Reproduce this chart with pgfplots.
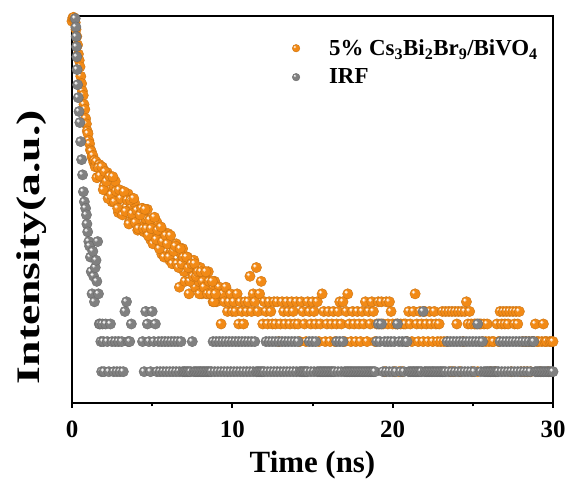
\documentclass[border=0pt]{standalone}
\usepackage{fontspec}
\setmainfont{Liberation Serif}
\usepackage{graphicx}
\usepackage{pgfplots}
\usepackage{pgfplotstable}
\pgfplotsset{compat=1.18}
\definecolor{orangeC}{RGB}{242,138,22}
\definecolor{grayC}{RGB}{128,128,128}

\pgfdeclareplotmark{oball}{%
  \pgfsetlinewidth{0.35bp}\pgfsetstrokecolor{orangeC!82!black}\pgfsetfillcolor{orangeC}%
  \pgfpathcircle{\pgfpointorigin}{\pgfplotmarksize}\pgfusepath{fill,stroke}%
  \pgfsetfillcolor{orangeC!45!white}%
  \pgfpathcircle{\pgfpoint{-0.3\pgfplotmarksize}{0.3\pgfplotmarksize}}{0.36\pgfplotmarksize}\pgfusepath{fill}%
  \pgfsetfillcolor{white}%
  \pgfpathcircle{\pgfpoint{-0.34\pgfplotmarksize}{0.34\pgfplotmarksize}}{0.18\pgfplotmarksize}\pgfusepath{fill}}
\pgfdeclareplotmark{gball}{%
  \pgfsetlinewidth{0.35bp}\pgfsetstrokecolor{grayC!82!black}\pgfsetfillcolor{grayC}%
  \pgfpathcircle{\pgfpointorigin}{\pgfplotmarksize}\pgfusepath{fill,stroke}%
  \pgfsetfillcolor{grayC!45!white}%
  \pgfpathcircle{\pgfpoint{-0.3\pgfplotmarksize}{0.3\pgfplotmarksize}}{0.36\pgfplotmarksize}\pgfusepath{fill}%
  \pgfsetfillcolor{white}%
  \pgfpathcircle{\pgfpoint{-0.34\pgfplotmarksize}{0.34\pgfplotmarksize}}{0.18\pgfplotmarksize}\pgfusepath{fill}}

\pgfplotstableread[row sep=\\]{t c\\
0 3200\\ 0.05 3450\\ 0.1 3500\\ 0.15 3350\\ 0.2 3100\\ 0.25 2650\\ 0.3 2250\\ 0.35 1850\\ 0.4 1500\\ 0.45 1300\\ 0.5 1120\\ 0.55 900\\ 0.6 760\\ 0.65 640\\ 0.7 580\\ 0.75 470\\ 0.8 420\\ 0.85 340\\ 0.9 300\\ 0.95 255\\ 1 240\\ 1.05 205\\ 1.1 190\\ 1.15 165\\ 1.2 160\\ 1.25 140\\ 1.3 145\\ 1.35 125\\ 1.4 130\\ 1.45 112\\
1.5 126\\ 1.6 88\\ 1.7 118\\ 1.8 91\\ 1.9 111\\ 2 72\\ 2.1 86\\ 2.2 98\\ 2.3 63\\ 2.4 70\\ 2.5 50\\ 2.6 73\\ 2.7 80\\ 2.8 52\\ 2.9 39\\ 3 55\\ 3.1 64\\ 3.2 40\\ 3.3 54\\ 3.4 44\\ 3.5 60\\ 3.6 32\\ 3.7 45\\ 3.8 34\\ 3.9 49\\ 4 37\\ 4.1 26\\ 4.2 42\\ 4.3 31\\ 4.4 43\\ 4.5 25\\ 4.6 34\\ 4.7 42\\ 4.8 25\\ 4.9 21\\ 5 32\\ 5.1 26\\ 5.2 20\\ 5.3 31\\ 5.4 21\\ 5.5 25\\ 5.6 15\\ 5.7 25\\ 5.8 20\\ 5.9 16\\ 6 24\\ 6.1 13\\ 6.2 16\\ 6.3 18\\ 6.4 12\\ 6.5 19\\ 6.6 12\\ 6.7 7\\ 6.8 15\\ 6.9 17\\ 7 10\\ 7.1 12\\ 7.2 14\\ 7.3 6\\ 7.4 11\\ 7.5 10\\ 7.6 13\\ 7.7 7\\ 7.8 11\\ 7.9 8\\ 8 11\\ 8.1 6\\ 8.2 8\\ 8.3 9\\ 8.4 6\\ 8.5 10\\ 8.6 6\\ 8.7 7\\ 8.8 5\\ 8.9 8\\ 9 5\\ 9.1 6\\ 9.2 7\\ 9.3 3\\ 9.4 6\\ 9.5 5\\ 9.6 7\\ 9.7 4\\ 9.8 5\\ 9.9 6\\ 10 4\\
10.1 5\\ 10.2 4\\ 10.3 6\\ 10.4 3\\ 10.5 5\\ 10.6 4\\ 10.7 3\\ 10.8 5\\ 10.9 4\\ 11 5\\ 11.1 9\\ 11.2 4\\ 11.3 6\\ 11.4 5\\ 11.5 11\\ 11.6 4\\ 11.7 6\\ 11.8 8\\ 11.9 3\\ 12 5\\
12.1 4\\ 12.2 3\\ 12.3 5\\ 12.4 4\\ 12.5 3\\ 12.6 5\\ 12.7 3\\ 12.8 5\\ 12.9 2\\ 13 3\\ 13.1 5\\ 13.2 4\\ 13.3 3\\ 13.4 5\\ 13.5 4\\ 13.6 3\\ 13.7 5\\ 13.8 4\\ 13.9 3\\ 14 5\\
14.1 3\\ 14.2 2\\ 14.3 5\\ 14.4 4\\ 14.5 3\\ 14.6 2\\ 14.7 5\\ 14.8 4\\ 14.9 3\\ 15 5\\ 15.1 4\\ 15.2 3\\ 15.3 5\\ 15.4 2\\ 15.5 3\\ 15.6 6\\ 15.7 4\\ 15.8 2\\ 15.9 3\\ 16 4\\ 16.1 2\\ 16.2 3\\ 16.3 4\\ 16.4 2\\ 16.5 3\\ 16.6 4\\ 16.7 5\\ 16.8 3\\ 16.9 5\\ 17 2\\ 17.1 4\\ 17.2 6\\ 17.3 3\\
17.4 2\\ 17.5 4\\ 17.6 3\\ 17.7 2\\ 17.8 4\\ 17.9 3\\ 18 2\\ 18.1 4\\ 18.2 3\\ 18.3 5\\ 18.4 2\\ 18.5 4\\ 18.6 3\\ 18.7 5\\ 18.8 4\\ 18.9 2\\ 19 3\\ 19.1 5\\ 19.2 3\\ 19.3 5\\ 19.4 3\\ 19.5 1\\ 19.6 5\\ 19.7 3\\ 19.8 5\\ 19.9 4\\ 20 3\\ 20.1 1\\ 20.2 3\\ 20.3 3\\ 20.4 1\\ 20.5 3\\ 20.6 1\\ 20.7 3\\ 20.8 3\\ 20.9 2\\
21 4\\ 21.1 3\\ 21.2 2\\ 21.3 4\\ 21.4 6\\ 21.5 3\\ 21.6 2\\ 21.7 4\\ 21.8 3\\ 21.9 2\\ 22 4\\ 22.1 3\\ 22.2 2\\ 22.3 4\\ 22.4 3\\ 22.5 2\\ 22.6 4\\ 22.7 3\\ 22.8 2\\ 22.9 3\\ 23 2\\ 23.1 4\\ 23.2 2\\ 23.3 4\\ 23.4 2\\ 23.5 4\\ 23.6 1\\ 23.7 4\\ 23.8 1\\ 23.9 4\\ 24 3\\
24.1 4\\ 24.2 1\\ 24.3 4\\ 24.4 2\\ 24.5 4\\ 24.6 5\\ 24.7 3\\ 24.8 4\\ 24.9 3\\ 25 1\\ 25.1 3\\ 25.2 3\\ 25.3 1\\ 25.4 3\\ 25.5 3\\ 25.6 2\\ 25.7 3\\ 25.8 2\\ 25.9 3\\ 26 2\\ 26.1 1\\ 26.2 2\\ 26.3 2\\ 26.4 1\\ 26.5 3\\ 26.6 2\\ 26.7 4\\ 26.8 3\\ 26.9 4\\ 27 3\\
27.1 4\\ 27.2 3\\ 27.3 4\\ 27.4 1\\ 27.5 4\\ 27.6 3\\ 27.7 4\\ 27.8 3\\ 27.9 4\\ 28 1\\ 28.1 2\\ 28.2 1\\ 28.3 2\\ 28.4 1\\ 28.5 2\\ 28.6 1\\ 28.7 2\\ 28.8 2\\ 28.9 3\\ 29 2\\ 29.1 2\\ 29.2 1\\ 29.3 2\\ 29.4 3\\ 29.5 2\\ 29.6 2\\ 29.7 1\\ 29.8 2\\ 29.9 2\\ 30 2\\
1.55 87\\ 1.65 110\\ 1.75 91\\ 1.85 112\\ 1.95 66\\ 2.05 100\\ 2.15 80\\ 2.25 54\\ 2.35 90\\ 2.45 59\\ 2.55 89\\ 2.65 50\\ 2.75 64\\ 2.85 43\\ 2.95 66\\ 3.05 54\\ 3.15 37\\ 3.25 63\\ 3.35 40\\ 3.45 52\\ 3.55 30\\ 3.65 52\\ 3.75 38\\ 3.85 54\\ 3.95 31\\ 4.05 41\\ 4.15 27\\ 4.25 37\\ 4.35 43\\ 4.45 27\\ 4.55 42\\ 4.65 27\\ 4.75 23\\ 4.85 33\\ 4.95 27\\ 5.05 19\\ 5.15 35\\ 5.25 21\\ 5.35 26\\ 5.45 17\\ 5.55 28\\ 5.65 20\\ 5.75 14\\ 5.85 23\\ 5.95 19\\ 6.05 14\\ 6.15 23\\ 6.25 12\\ 6.35 16\\ 6.45 18\\ 6.55 12\\ 6.65 11\\ 6.75 17\\ 6.85 12\\ 6.95 14\\ 7.05 8\\ 7.15 14\\ 7.25 11\\ 7.35 8\\ 7.45 12\\ 7.55 9\\ 7.65 12\\ 7.75 9\\ 7.85 10\\ 7.95 6\\ 8.05 10\\ 8.15 8\\ 8.25 7\\ 8.35 10\\ 8.45 6\\ 8.55 8\\ 8.65 6\\ 8.75 8\\ 8.85 5\\ 8.95 6\\
}\sample

\pgfplotstableread[row sep=\\]{t c\\
0.2 3400\\ 0.24 2800\\ 0.26 2240\\ 0.28 1780\\ 0.3 1410\\ 0.32 1050\\ 0.35 740\\ 0.39 550\\ 0.44 400\\ 0.49 310\\ 0.54 200\\ 0.6 132\\ 0.66 93\\ 0.71 63\\ 0.77 50\\ 0.85 43\\ 0.9 37\\ 0.93 30\\ 0.98 25\\ 1.05 20\\ 1.1 18\\ 1.15 14\\ 1.2 10\\ 1.25 6\\ 1.3 16\\ 1.35 9\\ 1.4 5\\ 1.45 11\\ 1.5 13\\ 1.55 8\\ 1.6 20\\ 1.65 6\\ 1.7 3\\ 1.75 3\\ 1.8 2\\ 1.85 1\\ 1.9 3\\ 1.95 2\\ 2 1\\
2.1 3\\ 2.2 2\\ 2.3 1\\ 2.4 3\\ 2.5 2\\ 2.6 1\\ 2.7 2\\ 2.8 1\\ 2.9 2\\ 3 1\\ 3.1 2\\ 3.2 1\\ 3.3 4\\ 3.4 5\\ 3.5 2\\ 3.6 2\\ 3.7 3\\
4.4 2\\ 4.5 1\\ 4.6 4\\ 4.7 3\\ 4.8 2\\ 4.9 1\\ 5 4\\ 5.1 2\\ 5.2 3\\ 5.3 1\\ 5.4 2\\ 5.5 1\\ 5.6 2\\ 5.7 1\\ 5.8 2\\ 5.9 1\\ 6 2\\ 6.1 1\\ 6.2 2\\ 6.3 1\\ 6.4 2\\ 6.5 1\\ 6.6 2\\ 6.7 1\\ 6.8 2\\ 6.9 1\\
7 1\\ 7.1 1\\ 7.2 1\\ 7.3 1\\ 7.4 1\\ 7.5 2\\ 7.6 1\\ 7.7 1\\ 7.8 1\\ 7.9 1\\ 8 1\\ 8.1 1\\ 8.2 1\\ 8.3 1\\ 8.4 1\\ 8.5 1\\ 8.6 1\\ 8.7 1\\
8.8 2\\ 8.9 1\\ 9 2\\ 9.1 1\\ 9.2 2\\ 9.3 1\\ 9.4 2\\ 9.5 1\\ 9.6 2\\ 9.7 1\\ 9.8 2\\ 9.9 1\\ 10 2\\ 10.1 1\\ 10.2 2\\ 10.3 1\\ 10.4 2\\ 10.5 1\\ 10.6 2\\ 10.7 1\\ 10.8 2\\ 10.9 1\\ 11 2\\ 11.1 1\\ 11.2 2\\ 11.3 1\\ 11.4 2\\ 11.5 1\\
11.6 1\\ 11.7 1\\ 11.8 1\\ 11.9 1\\ 12 1\\
12.1 2\\ 12.2 1\\ 12.3 2\\ 12.4 1\\ 12.5 2\\ 12.6 1\\ 12.7 2\\ 12.8 1\\ 12.9 2\\ 13 1\\ 13.1 2\\ 13.2 1\\ 13.3 2\\ 13.4 1\\ 13.5 2\\ 13.6 1\\ 13.7 2\\ 13.8 1\\ 13.9 2\\ 14 1\\ 14.1 2\\
14.2 1\\ 14.3 1\\ 14.4 1\\ 14.5 1\\ 14.6 1\\ 14.7 1\\ 14.8 2\\ 14.9 1\\ 15 2\\ 15.1 1\\ 15.2 2\\
15.3 1\\ 15.4 1\\ 15.5 1\\ 15.6 1\\ 15.7 1\\ 15.8 1\\ 15.9 1\\ 16 1\\ 16.1 1\\ 16.2 1\\ 16.3 1\\ 16.4 1\\ 16.5 2\\ 16.6 1\\ 16.7 2\\ 16.8 1\\ 16.9 2\\
17 1\\ 17.1 1\\ 17.2 1\\ 17.3 1\\ 17.4 1\\ 17.5 1\\ 17.6 1\\ 17.7 1\\ 17.8 1\\ 17.9 1\\ 18 1\\ 18.1 1\\ 18.2 1\\ 18.3 1\\ 18.4 1\\ 18.5 1\\ 18.6 1\\ 18.7 1\\ 18.8 1\\ 18.9 1\\
19 2\\ 19.1 3\\ 19.2 2\\ 19.3 3\\ 19.4 1\\ 19.5 2\\ 19.6 1\\ 19.7 2\\ 19.8 1\\ 19.9 2\\ 20 1\\ 20.1 2\\ 20.2 1\\ 20.3 3\\ 20.4 2\\ 20.5 1\\ 20.6 2\\ 20.7 1\\ 20.8 2\\ 20.9 2\\
21 1\\ 21.1 1\\ 21.2 1\\ 21.3 1\\ 21.4 1\\ 21.5 1\\ 21.6 1\\ 21.7 1\\ 21.8 1\\ 21.9 4\\ 22 1\\ 22.1 1\\ 22.2 1\\ 22.3 1\\ 22.4 1\\ 22.5 1\\ 22.6 1\\ 22.7 1\\ 22.8 1\\ 22.9 1\\ 23 1\\ 23.1 1\\ 23.2 1\\ 23.3 1\\
23.4 2\\ 23.5 1\\ 23.6 2\\ 23.7 1\\ 23.8 2\\ 23.9 1\\ 24 2\\ 24.1 1\\ 24.2 2\\ 24.3 1\\ 24.4 2\\ 24.5 1\\ 24.6 2\\ 24.7 1\\ 24.8 2\\ 24.9 1\\ 25 2\\ 25.1 1\\ 25.2 2\\ 25.3 3\\ 25.4 2\\ 25.5 1\\ 25.6 2\\
25.7 1\\ 25.8 1\\ 25.9 1\\ 26 1\\ 26.1 1\\ 26.2 1\\ 26.3 1\\ 26.4 1\\ 26.5 1\\ 26.6 1\\
26.7 2\\ 26.8 1\\ 26.9 2\\ 27 1\\ 27.1 2\\ 27.2 1\\ 27.3 2\\ 27.4 1\\ 27.5 2\\ 27.6 1\\ 27.7 2\\ 27.8 1\\ 27.9 2\\ 28 1\\ 28.1 2\\ 28.2 1\\ 28.3 2\\ 28.4 1\\ 28.5 2\\ 28.6 1\\ 28.7 2\\ 28.8 2\\
28.9 1\\ 29 1\\ 29.1 1\\ 29.2 1\\ 29.3 1\\ 29.4 1\\ 29.5 1\\ 29.6 1\\ 29.7 1\\ 29.8 1\\ 29.9 1\\ 30 1\\
}\irf

\begin{document}
\begin{tikzpicture}
\begin{axis}[
  scale only axis, width=481bp, height=387bp,
  xmin=0, xmax=30, ymode=log, ymin=0.486, ymax=3606,
  xtick={0,10,20,30}, minor xtick={5,15,25},
  xtick pos=left, tick align=outside,
  ytick=\empty, yminorticks=false,
  major tick length=5bp, minor tick length=3.5bp,
  every tick/.style={black, line width=2bp},
  axis line style={line width=2.4bp},
  /pgf/number format/assume math mode=true,
  xticklabel style={font=\fontsize{25}{30}\selectfont\bfseries, yshift=-9bp},
  xlabel={Time (ns)},
  xlabel style={font=\fontsize{31}{36}\selectfont\bfseries, yshift=-7bp},
  ylabel={\scalebox{1.39}[1]{Intensity(a.u.)}},
  ylabel style={font=\fontsize{33}{38}\selectfont\bfseries, at={(axis description cs:-0.083,0.403)}, anchor=center},
  legend style={at={(axis description cs:0.451,0.95)}, anchor=north west, draw=none, fill=none,
    font=\fontsize{23}{27}\selectfont\bfseries, row sep=8bp,
    /tikz/every odd column/.append style={column sep=27bp}},
  legend cell align=left,
  legend image post style={mark size=3.8bp},
]
\coordinate (bl) at (rel axis cs:0,0);
\coordinate (tr) at (rel axis cs:1,1);
\addplot[only marks, mark=oball, mark size=5.2bp] table[x=t,y=c] {\sample};
\addlegendentry{5\% Cs\textsubscript{3}Bi\textsubscript{2}Br\textsubscript{9}/BiVO\textsubscript{4}}
\addplot[only marks, mark=gball, mark size=5.2bp] table[x=t,y=c] {\irf};
\addlegendentry{IRF}
\end{axis}
\pgfresetboundingbox
\path[use as bounding box] ([shift={(-72bp,-81bp)}]bl) rectangle ([shift={(18bp,16bp)}]tr);
\end{tikzpicture}
\end{document}
